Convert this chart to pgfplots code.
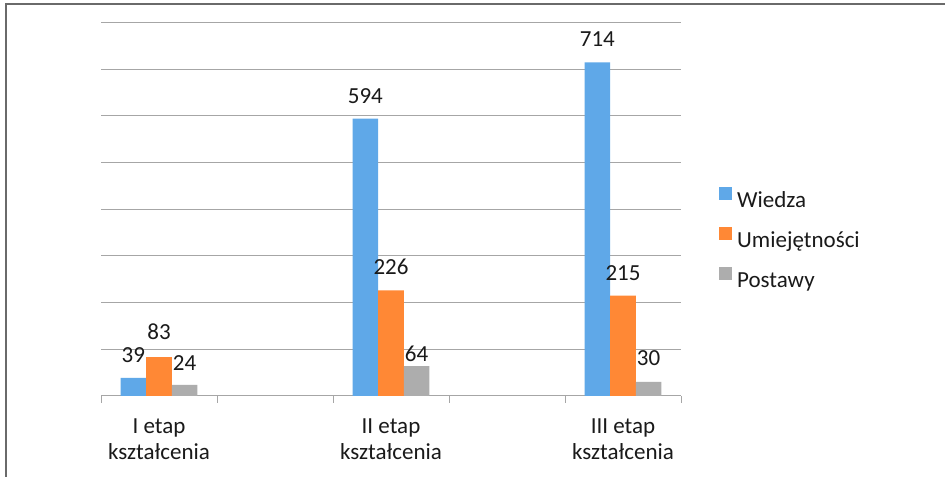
\documentclass[border=0pt]{standalone}
\usepackage{fontspec}
\setmainfont{Carlito}
\usepackage{pgfplots}
\usepackage{pgfplotstable}
\pgfplotsset{compat=1.18}
\definecolor{cblue}{HTML}{5FA8E8}
\definecolor{corange}{HTML}{FF8835}
\definecolor{cgray}{HTML}{ADADAD}
\definecolor{gridc}{HTML}{A6A6A6}
\definecolor{framec}{HTML}{6A6A6A}
\definecolor{txt}{HTML}{1A1A1A}
\pgfplotstableread{
x y dy
0 39 15
2 594 15
4 714 16
}\wiedza
\pgfplotstableread{
x y dy
0 83 17
2 226 16
4 215 15
}\umiej
\pgfplotstableread{
x y dy
0 24 14
2 64 4
4 30 16
}\postawy
\newcommand{\f}{\fontsize{23bp}{26bp}\selectfont}
\begin{document}
\begin{tikzpicture}
\useasboundingbox (0,0) rectangle (945bp,477bp);
\fill[white] (0,0) rectangle (945bp,477bp);
\draw[line width=2bp, framec] (5.5bp,0) -- (5.5bp,472.5bp) -- (945bp,472.5bp);
\begin{axis}[
  at={(101bp,81bp)}, anchor=south west,
  scale only axis, width=580bp, height=373.7bp,
  xmin=-0.5, xmax=4.5, ymin=0, ymax=800,
  enlargelimits=false, clip=false,
  ybar=0pt, bar width=25.6bp,
  /pgf/number format/assume math mode=true,
  axis x line*=bottom, axis y line*=left,
  x axis line style={draw=gridc, line width=1bp, -},
  y axis line style={draw=none},
  xtick={-0.5,0.5,...,4.5}, xticklabels={},
  major x tick style={draw=gridc, line width=1bp},
  x tick style={draw=gridc, line width=1bp},
  xtick align=outside, major tick length=7bp,
  extra x ticks={0,2,4},
  extra x tick labels={{I etap\\kształcenia},{II etap\\kształcenia},{III etap\\kształcenia}},
  extra x tick style={major tick length=0pt, x tick style={draw=none}},
  xticklabel style={align=center, font=\f, text=txt, yshift=-19bp},
  ytick={0,100,...,800}, yticklabels={}, y tick style={draw=none},
  ymajorgrids, grid style={draw=gridc, line width=1bp},
  nodes near coords,
  visualization depends on={\thisrow{dy} \as \dy},
  nodes near coords style={font=\f, text=txt, anchor=south, inner sep=0pt, yshift=\dy bp},
  legend style={draw=none, fill=none, at={(1.0603,0.565)}, anchor=north west,
    font=\f, text=txt, row sep=14bp, column sep=5bp,
    nodes={inner sep=0pt, text height=18bp, text depth=6bp}},
  legend cell align=left,
  legend image code/.code={\fill[#1] (0bp,1bp) rectangle (13bp,14bp);},
]
\addplot[fill=cblue, draw=none] table[x=x,y=y] {\wiedza};
\addplot[fill=corange, draw=none] table[x=x,y=y] {\umiej};
\addplot[fill=cgray, draw=none] table[x=x,y=y] {\postawy};
\legend{Wiedza,Umiejętności,Postawy}
\end{axis}
\end{tikzpicture}
\end{document}
